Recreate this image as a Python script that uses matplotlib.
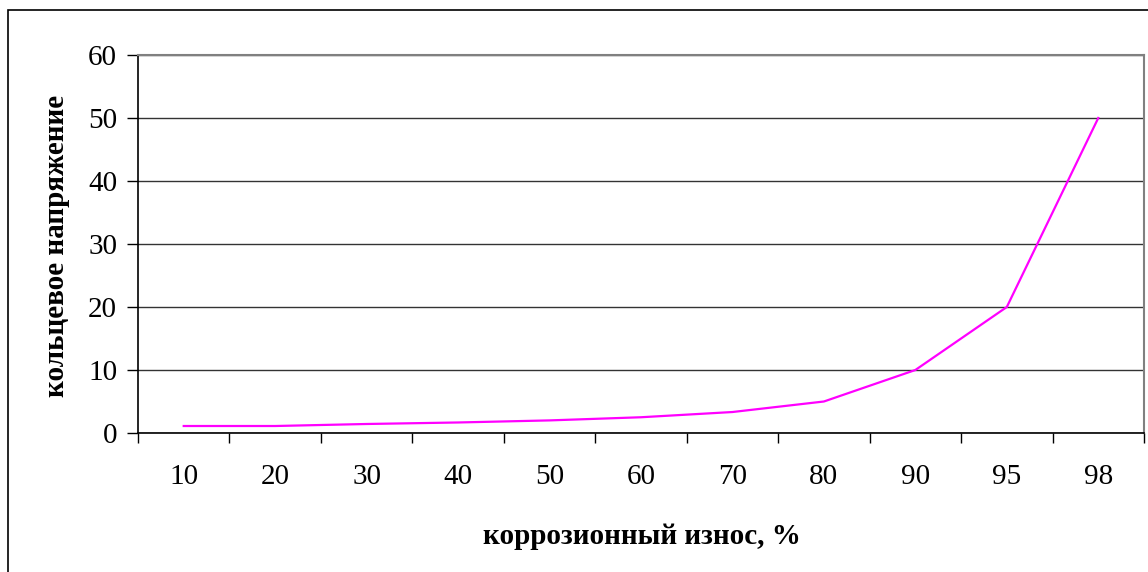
import matplotlib
matplotlib.use("Agg")
import matplotlib.pyplot as plt
from matplotlib.patches import Rectangle
import numpy as np

categories = ["10", "20", "30", "40", "50", "60", "70", "80", "90", "95", "98"]
stress = [1.11, 1.11, 1.43, 1.67, 2.0, 2.5, 3.33, 5.0, 10.0, 20.0, 50.0]
y_ticks = [0, 10, 20, 30, 40, 50, 60]

plt.rcParams['font.family'] = ['Liberation Serif', 'DejaVu Serif']

W, H = 1148, 572
fig = plt.figure(figsize=(W / 100, H / 100), dpi=100)
fig.patch.set_facecolor("white")

# figure frame (left/top visible)
fig.add_artist(Rectangle((8 / W, -0.05), 1.2, (H - 10) / H + 0.05,
                         transform=fig.transFigure, fill=False,
                         edgecolor="black", linewidth=1.2))

left, right, top, bottom = 138, 1144, 55, 433
ax = fig.add_axes([left / W, 1 - bottom / H, (right - left) / W, (bottom - top) / H])

x = np.arange(len(categories))
ax.plot(x, stress, color="#FF00FF", linewidth=1.6, solid_joinstyle="miter")

ax.set_xlim(-0.5, len(categories) - 0.5)
ax.set_ylim(0, 60)
ax.set_yticks(y_ticks)
ax.set_yticklabels([str(v) for v in y_ticks], fontsize=21)
ax.yaxis.grid(True, color="#333333", linewidth=1)
ax.set_axisbelow(True)

ax.set_xticks(x)
ax.set_xticklabels(categories, fontsize=21)
ax.tick_params(axis="x", which="major", length=0, pad=22)
ax.set_xticks(np.arange(-0.5, len(categories), 1.0), minor=True)
ax.tick_params(axis="x", which="minor", length=7, width=1, direction="out", color="black")
ax.tick_params(axis="y", length=8, width=1, direction="out", pad=7)

for s in ["left", "bottom"]:
    ax.spines[s].set_color("black")
    ax.spines[s].set_linewidth(1.2)
for s in ["right", "top"]:
    ax.spines[s].set_color("#808080")
    ax.spines[s].set_linewidth(1.5)

fig.text(642 / W, 1 - 536 / H, "коррозионный износ, %", ha="center", va="center",
         fontsize=21, fontweight="bold")
fig.text(56 / W, 1 - 246 / H, "кольцевое напряжение", ha="center", va="center",
         rotation=90, fontsize=21, fontweight="bold")

fig.savefig("out.png", dpi=100, facecolor="white")
